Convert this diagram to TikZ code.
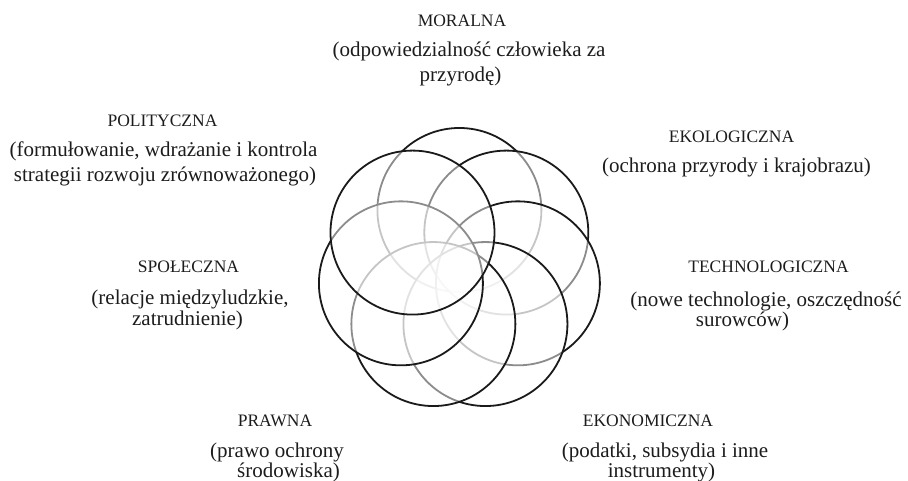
\documentclass[tikz,border=0pt]{standalone}
\usepackage{fontspec}
\setmainfont{Liberation Serif}
\usetikzlibrary{calc}
\definecolor{ink}{HTML}{1A1A1A}
\definecolor{txt}{HTML}{1C1C1C}
\newcommand\labtitle{\fontsize{17.5}{20}\selectfont}
\newcommand\labbody{\fontsize{21}{23}\selectfont}
\begin{document}
\begin{tikzpicture}[x=1pt,y=1pt,
  petal/.style={circle, draw=ink, line width=1.8pt, fill=white,
    fill opacity=0.5, draw opacity=1, inner sep=0pt, minimum size=164pt},
  ttl/.style={anchor=base, inner sep=0pt, text=txt, font=\labtitle},
  bdy/.style={anchor=base, inner sep=0pt, text=txt, font=\labbody}]
\useasboundingbox (0,0) rectangle (908,481);
\coordinate (O) at (459.4,211);

% seven overlapping circles, each laid over the previous ones
\node[petal] (pB) at ($(O)+(90:60)$) {};
\node[petal] (pC) at ($(O)+(38.571:60)$) {};
\node[petal] (pD) at ($(O)+(-12.857:60)$) {};
\node[petal] (pE) at ($(O)+(-64.286:60)$) {};
\node[petal] (pF) at ($(O)+(-115.714:60)$) {};
\node[petal] (pG) at ($(O)+(-167.143:60)$) {};
\node[petal] (pA) at ($(O)+(141.429:60)$) {};

% labels
\node[ttl] (mor) at (462,454) {MORALNA};
\node[bdy] (mor1) at (469,424) {(odpowiedzialność człowieka za};
\node[bdy] (mor2) at (460.5,399) {przyrodę)};

\node[ttl] (pol) at (162.5,354) {POLITYCZNA};
\node[bdy] (pol1) at (163.5,324) {(formułowanie, wdrażanie i kontrola};
\node[bdy] (pol2) at (165,299) {strategii rozwoju zrównoważonego)};

\node[ttl] (eko) at (731.5,338) {EKOLOGICZNA};
\node[bdy] (eko1) at (736.5,308) {(ochrona przyrody i krajobrazu)};

\node[ttl] (spo) at (188.5,208) {SPOŁECZNA};
\node[bdy] (spo1) at (190,176) {(relacje międzyludzkie,};
\node[bdy] (spo2) at (187.5,155) {zatrudnienie)};

\node[ttl] (tec) at (768.5,208) {TECHNOLOGICZNA};
\node[bdy] (tec1) at (766,174) {(nowe technologie, oszczędność};
\node[bdy] (tec2) at (742.5,154) {surowców)};

\node[ttl] (pra) at (275,54) {PRAWNA};
\node[bdy] (pra1) at (277,23) {(prawo ochrony};
\node[bdy] (pra2) at (288.5,3.5) {środowiska)};

\node[ttl] (ekn) at (648,54) {EKONOMICZNA};
\node[bdy] (ekn1) at (665,23) {(podatki, subsydia i inne};
\node[bdy] (ekn2) at (661.5,3.5) {instrumenty)};
\end{tikzpicture}
\end{document}
